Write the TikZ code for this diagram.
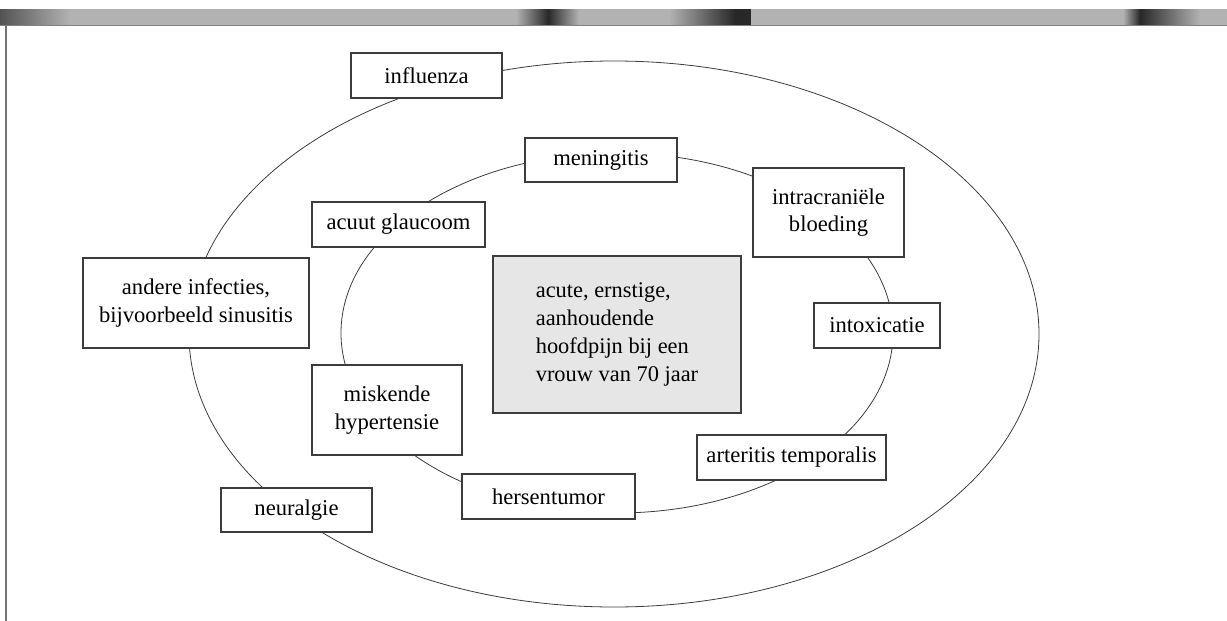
\documentclass[tikz,border=0pt]{standalone}
\usepackage{fontspec}
\setmainfont{Liberation Serif}
\definecolor{bandgray}{RGB}{178,178,178}
\definecolor{darkpatch}{RGB}{40,40,40}
\definecolor{linegray}{RGB}{60,60,60}
\definecolor{centerfill}{RGB}{230,230,230}
\begin{document}
\begin{tikzpicture}[x=1pt,y=-1pt,
  box/.style={draw=linegray,line width=1.1pt,fill=white,rectangle,inner sep=0pt,
    align=center,font=\fontsize{22.6}{27.5}\selectfont,text=black},
  ring/.style={draw=linegray,line width=0.8pt}]
\useasboundingbox (0,0) rectangle (1227,621);
% scanned band at top
\fill[bandgray] (0,9) rectangle (1227,25);
\shade[left color=darkpatch!80,right color=bandgray] (0,9) rectangle (70,25);
\shade[left color=bandgray,right color=darkpatch] (516,9) rectangle (548,25);
\shade[left color=darkpatch,right color=bandgray] (548,9) rectangle (579,25);
\shade[left color=bandgray,right color=darkpatch] (669,9) rectangle (735,25);
\fill[darkpatch] (735,9) rectangle (751,25);
\shade[left color=bandgray,right color=darkpatch] (1123,9) rectangle (1140,25);
\shade[left color=darkpatch,right color=bandgray] (1140,9) rectangle (1200,25);
\draw[gray,line width=0.8pt] (0,25) -- (1227,25);
\draw[gray!90!black,line width=1.2pt] (6,25) -- (6,621);
% ellipses
\draw[ring] (614,334) ellipse [x radius=425,y radius=273];
\draw[ring] (617,333) ellipse [x radius=276,y radius=180];
% boxes
\node[box,minimum width=151pt,minimum height=45pt] (influenza) at (426.5,75.5) {influenza};
\node[box,minimum width=152pt,minimum height=44pt] (meningitis) at (601,160) {meningitis};
\node[box,minimum width=151pt,minimum height=89pt] (bloeding) at (828.5,212.5) {intracraniële\\bloeding};
\node[box,minimum width=173pt,minimum height=45pt] (glaucoom) at (398.5,224.5) {acuut glaucoom};
\node[box,minimum width=226pt,minimum height=90pt] (infecties) at (196,303) {andere infecties,\\bijvoorbeeld sinusitis};
\node[box,fill=centerfill,align=left,minimum width=248pt,minimum height=157pt,
  font=\fontsize{22.4}{28}\selectfont] (centre) at (617,334.5) {acute, ernstige,\\aanhoudende\\hoofdpijn bij een\\vrouw van 70 jaar};
\node[box,minimum width=126pt,minimum height=45pt] (intoxicatie) at (877,325.5) {intoxicatie};
\node[box,minimum width=150pt,minimum height=90pt] (hypertensie) at (387,410) {miskende\\hypertensie};
\node[box,minimum width=189pt,minimum height=45pt] (arteritis) at (791.5,457.5) {arteritis temporalis};
\node[box,minimum width=173pt,minimum height=45pt] (tumor) at (548.5,496.5) {hersentumor};
\node[box,minimum width=151pt,minimum height=44pt] (neuralgie) at (296.5,510) {neuralgie};
\end{tikzpicture}
\end{document}
